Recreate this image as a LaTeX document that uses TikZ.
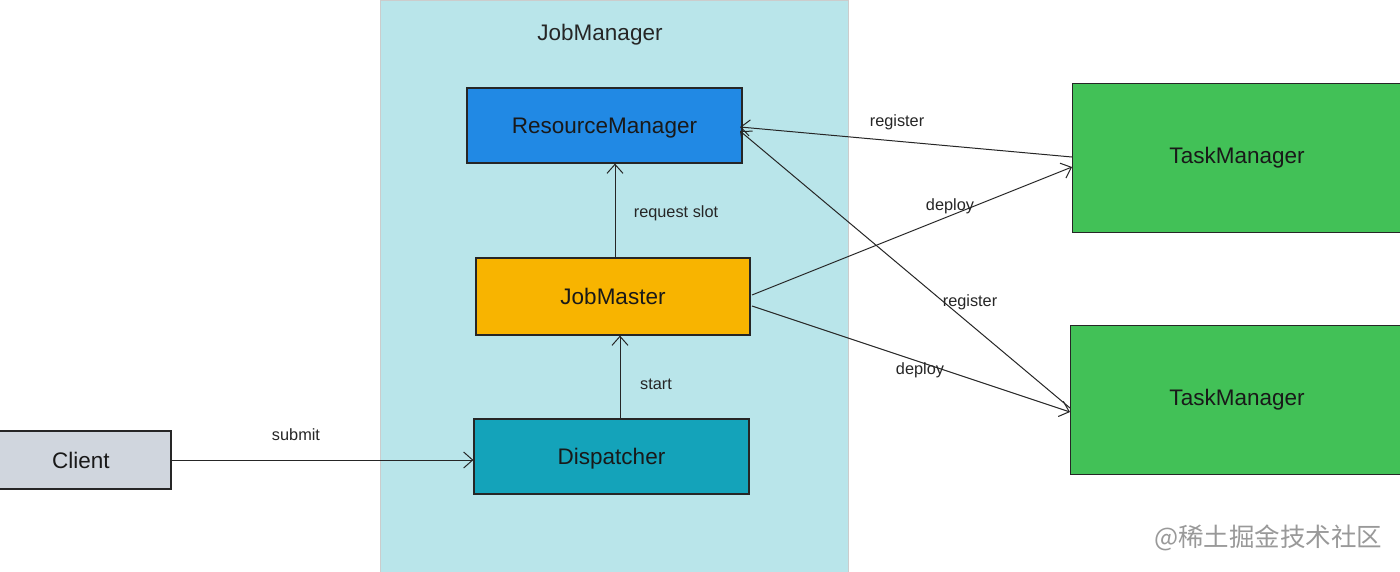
\documentclass[tikz,border=0pt]{standalone}
\usepackage{fontspec}
\setmainfont{Liberation Sans}
\newfontfamily\cjk{Noto Sans CJK SC}
\usetikzlibrary{arrows.meta}
\definecolor{jmbg}{HTML}{B9E5EA}
\definecolor{rmblue}{HTML}{2189E4}
\definecolor{jmorange}{HTML}{F8B400}
\definecolor{dispteal}{HTML}{14A3BA}
\definecolor{clientgray}{HTML}{D0D6DE}
\definecolor{tmgreen}{HTML}{42C157}
\tikzset{
  box/.style={draw=black!85, line width=1.2pt, inner sep=0pt, text depth=0pt, font=\fontsize{22.5}{26}\selectfont, text=black!90},
  conn/.style={draw=black!85, line width=1pt, -{Straight Barb[length=9pt,width=16pt]}},
  lbl/.style={font=\fontsize{16.3}{19}\selectfont, text=black!85},
}
\begin{document}
\begin{tikzpicture}[x=1pt,y=-1pt]
\useasboundingbox (0,0) rectangle (1400,571);
\fill[white] (0,0) rectangle (1400,571);
% container
\node[draw=black!20, fill=jmbg, line width=0.8pt, minimum width=468pt, minimum height=575pt, anchor=north west, inner sep=0pt] (jm) at (380,0) {};
\node[font=\fontsize{22.5}{26}\selectfont, text=black!85] (jmtitle) at (600,35) {JobManager};
% nodes
\node[box, fill=rmblue, minimum width=275pt, minimum height=75pt] (rm) at (604.5,125.5) {ResourceManager};
\node[box, fill=jmorange, minimum width=274pt, minimum height=77pt] (jmaster) at (613,296.5) {JobMaster};
\node[box, fill=dispteal, minimum width=275pt, minimum height=75pt] (disp) at (611.5,456.5) {Dispatcher};
\node[box, fill=clientgray, minimum width=180pt, minimum height=58pt] (client) at (81,460) {Client};
\node[box, fill=tmgreen, minimum width=330pt, minimum height=149pt, anchor=north west] (tm1) at (1072,83) {};
\node[font=\fontsize{22.5}{26}\selectfont, text=black!90] (tm1t) at (1237,158) {TaskManager};
\node[box, fill=tmgreen, minimum width=332pt, minimum height=149pt, anchor=north west] (tm2) at (1070,325) {};
\node[font=\fontsize{22.5}{26}\selectfont, text=black!90] (tm2t) at (1237,400) {TaskManager};
% connectors
\draw[conn] (client.east) -- (client.east -| disp.west);
\node[lbl] (subl) at (296,435) {submit};
\draw[conn] (disp.north -| 620,0) -- (jmaster.south -| 620,0);
\node[lbl] (startl) at (656,384) {start};
\draw[conn] (jmaster.north -| 615,0) -- (rm.south -| 615,0);
\node[lbl] (reql) at (676,213) {request slot};
\coordinate (tm1in) at (1072,157);
\coordinate (tm1dep) at (1072,167);
\coordinate (tm2in) at (1070,412);
\coordinate (tm2reg) at (1070,408);
\coordinate (rmin) at (740,127);
\coordinate (rmin2) at (740,131);
\coordinate (jmo1) at (752,295);
\coordinate (jmo2) at (752,306);
\draw[conn] (tm1in) -- (rmin);
\node[lbl] (reg1) at (897,122) {register};
\draw[conn] (jmo1) -- (tm1dep);
\node[lbl] (dep1) at (950,206) {deploy};
\draw[conn] (jmo2) -- (tm2in);
\node[lbl] (dep2) at (920,370) {deploy};
\draw[conn] (tm2reg) -- (rmin2);
\node[lbl] (reg2) at (970,302) {register};
% watermark
\node[font=\cjk\fontsize{25.5}{30}\selectfont, text=black!40, anchor=east] (wm) at (1386,538) {@稀土掘金技术社区};
\end{tikzpicture}
\end{document}
